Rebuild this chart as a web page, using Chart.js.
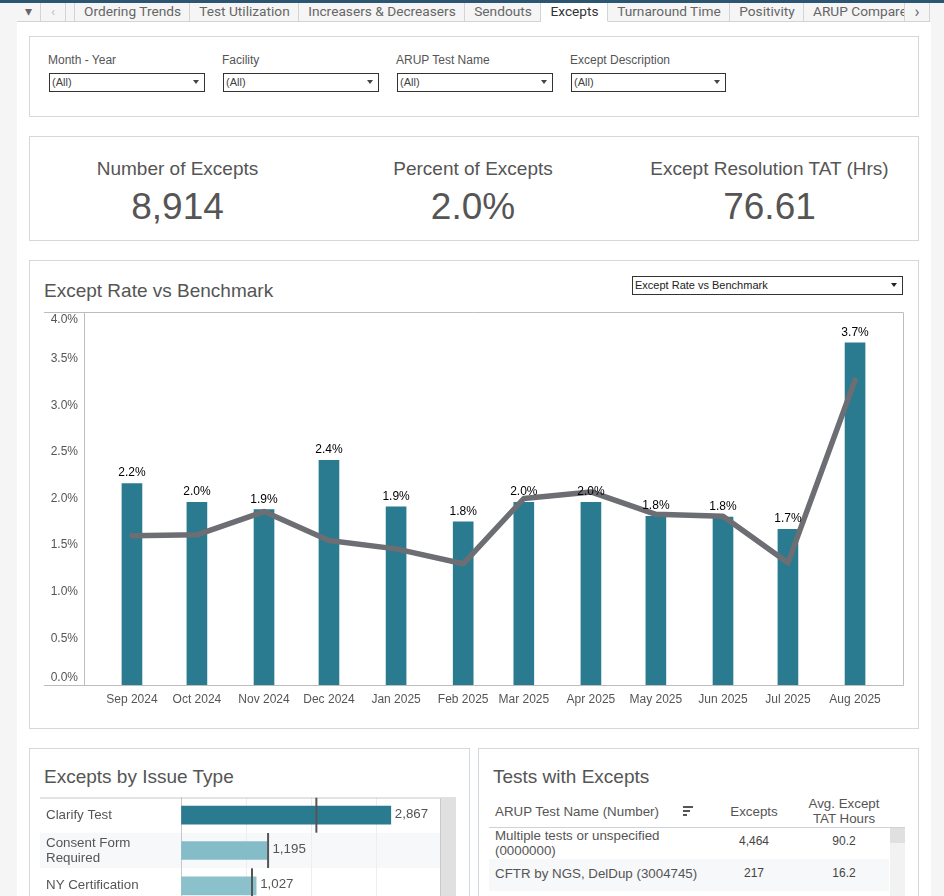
<!DOCTYPE html>
<html><head><meta charset="utf-8">
<script src="https://cdn.jsdelivr.net/npm/chart.js@4"></script>
<style>
html,body{margin:0;padding:0;width:944px;height:896px;overflow:hidden;background:#f5f5f5}
body{position:relative;font-family:"Liberation Sans",Arial,sans-serif;color:#555}
.abs{position:absolute}
.page{position:absolute;left:17px;top:22px;width:914px;height:874px;background:#fff}
.strip{position:absolute;left:0;top:0;width:944px;height:3px;background:#2b5573}
.panel{position:absolute;box-sizing:border-box;border:1px solid #d3d8de;background:#fff}
.tab{position:absolute;top:3px;height:19px;box-sizing:border-box;border-right:1px solid #d4d4d4;border-bottom:1px solid #d4d4d4;background:#f5f5f5;font:13.7px/17px Roboto,sans-serif;color:#666;text-align:center;white-space:nowrap;overflow:hidden}
.tab.on{background:#fff;color:#333;border-bottom:1px solid #fff}
.flab{position:absolute;top:53px;font-size:12px;line-height:14px;color:#555}
.sel{position:absolute;box-sizing:border-box;border:1px solid #333;background:#fff;font-size:11px;color:#444;padding-left:2px;height:19px;line-height:17px}
.sel i{position:absolute;right:5px;top:6px;width:0;height:0;border-left:3px solid transparent;border-right:3px solid transparent;border-top:4px solid #444}
.kt{position:absolute;top:158px;font-size:19px;line-height:22px;text-align:center;color:#555;white-space:nowrap}
.kv{position:absolute;top:185px;font-size:37px;line-height:44px;text-align:center;color:#555}
.ttl{position:absolute;font-size:19px;line-height:22px;color:#555;white-space:nowrap}
.cell{position:absolute;font-size:12px;line-height:15px;color:#444;text-align:center}
</style></head><body>
<div class="strip"></div>
<div class="page"></div>
<div class="tab" style="left:17px;width:24px">&#9662;</div>
<div class="tab" style="left:41px;width:25px;color:#bbb">&#8249;</div>
<div class="tab" style="left:66px;width:9px"></div>
<div class="tab" style="left:75px;width:115px;padding-left:1px">Ordering Trends</div>
<div class="tab" style="left:190px;width:109px;padding-left:1px">Test Utilization</div>
<div class="tab" style="left:299px;width:166px;padding-left:1px">Increasers &amp; Decreasers</div>
<div class="tab" style="left:465px;width:76px;padding-left:1px">Sendouts</div>
<div class="tab on" style="left:541px;width:67px;padding-left:1px">Excepts</div>
<div class="tab" style="left:608px;width:122px;padding-left:1px">Turnaround Time</div>
<div class="tab" style="left:730px;width:74px;padding-left:1px">Positivity</div>
<div class="tab" style="left:804px;width:101px;text-align:left;padding-left:9px">ARUP Compare</div>
<div class="tab" style="left:905px;width:25px;font-size:17px">&#8250;</div>

<div class="panel" style="left:29px;top:36px;width:890px;height:81px"></div>
<div class="flab" style="left:48px">Month - Year</div>
<div class="flab" style="left:222px">Facility</div>
<div class="flab" style="left:396px">ARUP Test Name</div>
<div class="flab" style="left:570px">Except Description</div>
<div class="sel" style="left:49px;top:73px;width:156px">(All)<i></i></div>
<div class="sel" style="left:223px;top:73px;width:156px">(All)<i></i></div>
<div class="sel" style="left:397px;top:73px;width:156px">(All)<i></i></div>
<div class="sel" style="left:571px;top:73px;width:155px">(All)<i></i></div>

<div class="panel" style="left:29px;top:136px;width:890px;height:105px"></div>
<div class="kt" style="left:30px;width:295px">Number of Excepts</div>
<div class="kt" style="left:325px;width:296px">Percent of Excepts</div>
<div class="kt" style="left:622px;width:295px">Except Resolution TAT (Hrs)</div>
<div class="kv" style="left:30px;width:295px">8,914</div>
<div class="kv" style="left:325px;width:296px">2.0%</div>
<div class="kv" style="left:622px;width:295px">76.61</div>

<div class="panel" style="left:29px;top:260px;width:890px;height:469px"></div>
<div class="ttl" style="left:44px;top:280px">Except Rate vs Benchmark</div>
<div class="sel" style="left:632px;top:276px;width:271px;color:#222">Except Rate vs Benchmark<i style="border-top-color:#222"></i></div>
<canvas id="rate" class="abs" width="888" height="466" style="left:30px;top:262px"></canvas>

<div class="panel" style="left:29px;top:748px;width:441px;height:170px"></div>
<div class="ttl" style="left:44px;top:766px">Excepts by Issue Type</div>
<div class="abs" style="left:441px;top:797px;width:15px;height:99px;background:#e0e0e0"></div>
<canvas id="issue" class="abs" width="411" height="121" style="left:30px;top:790px"></canvas>

<div class="panel" style="left:478px;top:748px;width:441px;height:170px"></div>
<div class="ttl" style="left:493px;top:766px">Tests with Excepts</div>
<div id="tbl"></div>

<script>
const monthStarts = ['2024-09-01','2024-10-01','2024-11-01','2024-12-01','2025-01-01','2025-02-01','2025-03-01','2025-04-01','2025-05-01','2025-06-01','2025-07-01','2025-08-01'];
const monthLabels = ['Sep 2024','Oct 2024','Nov 2024','Dec 2024','Jan 2025','Feb 2025','Mar 2025','Apr 2025','May 2025','Jun 2025','Jul 2025','Aug 2025'];
const exceptRate = [2.16,1.96,1.88,2.41,1.91,1.75,1.96,1.96,1.81,1.80,1.67,3.67];
const benchmark = [1.60,1.61,1.86,1.55,1.46,1.30,2.00,2.07,1.83,1.81,1.31,3.27];
const rateLabels = ['2.2%','2.0%','1.9%','2.4%','1.9%','1.8%','2.0%','2.0%','1.8%','1.8%','1.7%','3.7%'];

const issueTypes = ['Clarify Test',['Consent Form','Required'],'NY Certification'];
const issueCounts = [2867,1195,1027];
const issueMarks = [1850,1190,970];
const issueColors = ['#2a7b90','#84bdc8','#8bc1ca'];

const tableHead = ['ARUP Test Name (Number)','Excepts','Avg. Except<br>TAT Hours'];
const tableNames = ['Multiple tests or unspecified<br>(0000000)','CFTR by NGS, DelDup (3004745)'];
const tableExcepts = ['4,464','217'];
const tableTat = ['90.2','16.2'];

const FONT = '"Liberation Sans", Arial, sans-serif';
const dayOf = s => Date.parse(s + 'T00:00:00Z') / 86400000;
const monthDays = monthStarts.map(dayOf);
const xPad = 22.15;

const frame = {
  id: 'frame',
  beforeDatasetsDraw(c) {
    const a = c.chartArea, g = c.ctx;
    g.save(); g.strokeStyle = '#bdbdbd'; g.lineWidth = 1;
    g.beginPath();
    g.moveTo(a.left - 40, a.top + .5); g.lineTo(a.right + .5, a.top + .5);
    g.lineTo(a.right + .5, a.bottom + .5); g.lineTo(a.left - 40, a.bottom + .5);
    g.stroke(); g.restore();
  }
};
const rateText = {
  id: 'rateText',
  afterDatasetsDraw(c) {
    const g = c.ctx, m = c.getDatasetMeta(0);
    g.save(); g.font = '12px ' + FONT; g.fillStyle = '#000'; g.textAlign = 'center'; g.textBaseline = 'middle';
    m.data.forEach((b, i) => g.fillText(rateLabels[i], b.x, b.y - 10.5));
    g.restore();
  }
};
new Chart(document.getElementById('rate'), {
  data: { datasets: [
    { type: 'bar', label: 'Except Rate', order: 2, barThickness: 20, backgroundColor: '#2a7b90',
      data: monthDays.map((d, i) => ({ x: d, y: exceptRate[i] })) },
    { type: 'line', label: 'Benchmark', order: 1, borderColor: '#6c6e74', borderWidth: 5.5, pointRadius: 0, tension: 0,
      borderJoinStyle: 'round', borderCapStyle: 'round', clip: false,
      data: monthDays.map((d, i) => ({ x: d, y: benchmark[i] })) }
  ]},
  options: {
    responsive: false, maintainAspectRatio: false, animation: false, devicePixelRatio: 1,
    layout: { autoPadding: false, padding: { top: 50, right: 15, left: 14, bottom: 0 } },
    plugins: { legend: { display: false }, tooltip: { enabled: false } },
    scales: {
      x: { type: 'linear', offset: false, min: monthDays[0] - xPad, max: monthDays[11] + xPad,
        grid: { display: false, drawTicks: false }, border: { display: false },
        afterBuildTicks: s => { s.ticks = monthDays.map(v => ({ value: v })); },
        afterFit: s => { s.height = 43; },
        ticks: { autoSkip: false, maxRotation: 0, padding: 7, color: '#555', font: { family: FONT, size: 12 },
          callback: (v) => monthLabels[monthDays.indexOf(v)] } },
      y: { min: 0, max: 4, grid: { display: false, drawTicks: false },
        border: { display: true, color: '#bdbdbd', width: 1 },
        afterFit: s => { s.width = 40; },
        ticks: { stepSize: 0.5, padding: 6, color: '#555', font: { family: FONT, size: 12, lineHeight: 1.2 },
          callback: v => { const t = v.toFixed(1) + '%'; return v === 4 ? ['', t] : v === 0 ? [t, ''] : t; } } }
    }
  },
  plugins: [frame, rateText]
});

const issueBack = {
  id: 'issueBack',
  beforeDraw(c) {
    const g = c.ctx, a = c.chartArea, y = c.scales.y;
    g.save(); g.fillStyle = '#f7f8fa';
    issueTypes.forEach((t, i) => {
      if (i % 2) { const h = y.getPixelForTick(1) - y.getPixelForTick(0);
        g.fillRect(a.left - 141, y.getPixelForTick(i) - h / 2, 141 + a.width, h); }
    });
    g.restore();
  },
  beforeDatasetsDraw(c) {
    const g = c.ctx, a = c.chartArea;
    g.save(); g.strokeStyle = '#c8c8c8'; g.lineWidth = 1; g.beginPath();
    g.moveTo(a.left - 141, a.top + .5); g.lineTo(a.right - .5, a.top + .5); g.lineTo(a.right - .5, a.bottom);
    g.stroke(); g.restore();
  },
  afterDatasetsDraw(c) {
    const g = c.ctx, m = c.getDatasetMeta(0);
    g.save(); g.font = '13.33px ' + FONT; g.fillStyle = '#555'; g.textBaseline = 'middle';
    m.data.forEach((b, i) => {
      const mk = c.scales.x.getPixelForValue(issueMarks[i]);
      g.fillText(issueCounts[i].toLocaleString('en-US'), Math.max(b.x, mk) + 4, b.y - 1);
    });
    g.restore();
  }
};
new Chart(document.getElementById('issue'), {
  data: { labels: issueTypes, datasets: [
    { type: 'bar', order: 2, barThickness: 18, backgroundColor: issueColors, data: issueCounts },
    { type: 'scatter', order: 1, pointStyle: 'line', rotation: 90, radius: 17.5, borderWidth: 2, borderColor: '#555', clip: false,
      data: issueMarks.map((v, i) => ({ x: v, y: issueTypes[i] })) }
  ]},
  options: {
    indexAxis: 'y', responsive: false, maintainAspectRatio: false, animation: false, devicePixelRatio: 1,
    layout: { autoPadding: false, padding: { top: 7, right: 0, left: 16, bottom: 0 } },
    plugins: { legend: { display: false }, tooltip: { enabled: false } },
    scales: {
      x: { min: 0, max: 3553, position: 'bottom', grid: { color: '#eeeeee', drawTicks: false }, border: { display: false },
        afterFit: s => { s.height = 0; },
        ticks: { display: false, stepSize: 1000 } },
      y: { type: 'category', grid: { display: false, drawTicks: false }, border: { display: true, color: '#c8c8c8' },
        afterFit: s => { s.width = 135; },
        ticks: { crossAlign: 'far', padding: 0, color: '#555', autoSkip: false, font: { family: FONT, size: 13.33, lineHeight: 1.13 } } }
    }
  },
  plugins: [issueBack]
});

const T = document.getElementById('tbl');
const add = (html, css, cls) => { const d = document.createElement('div'); d.className = cls || 'cell'; d.style.cssText = css; d.innerHTML = html; T.appendChild(d); };
add('', 'left:489px;top:827px;width:416px;height:1px;background:#cfd2d6', 'abs');
add('', 'left:489px;top:859px;width:400px;height:32px;background:#f7f8fa', 'abs');
add('', 'left:890px;top:828px;width:15px;height:68px;background:#f2f2f2', 'abs');
add('', 'left:890px;top:828px;width:15px;height:15px;background:#e0e0e0', 'abs');
add(tableHead[0], 'left:495px;top:804px;font-size:13.33px;text-align:left;white-space:nowrap;color:#555');
add('', 'left:683px;top:806px;width:10px;height:2px;background:#555', 'abs');
add('', 'left:683px;top:810px;width:7px;height:2px;background:#555', 'abs');
add('', 'left:683px;top:814px;width:4px;height:2px;background:#555', 'abs');
add(tableHead[1], 'left:714px;top:804px;width:80px;font-size:13.33px;color:#555');
add(tableHead[2], 'left:799px;top:796px;width:90px;font-size:13.33px;color:#555');
tableNames.forEach((n, i) => {
  const top = [828, 866][i], mid = [834, 866][i];
  add(n, 'left:495px;top:' + top + 'px;font-size:13.33px;text-align:left;white-space:nowrap;color:#555');
  add(tableExcepts[i], 'left:714px;top:' + mid + 'px;width:80px');
  add(tableTat[i], 'left:799px;top:' + mid + 'px;width:90px');
});
</script>
</body></html>
